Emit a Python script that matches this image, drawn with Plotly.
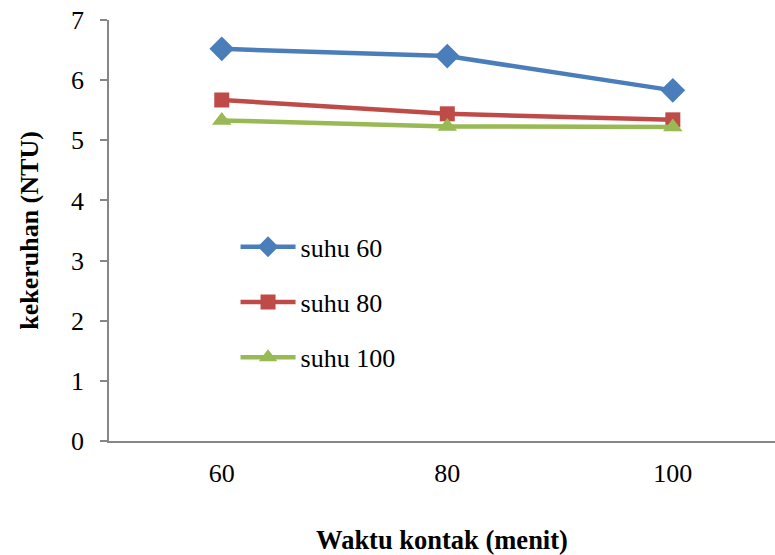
import plotly.graph_objects as go

# contact time categories (minutes)
waktu = ["60", "80", "100"]

# turbidity (NTU) for each temperature
suhu_60 = [6.52, 6.40, 5.83]
suhu_80 = [5.67, 5.44, 5.34]
suhu_100 = [5.33, 5.23, 5.22]

series = [
    ("suhu 60", suhu_60, "#4a7ebb", "diamond", 19),
    ("suhu 80", suhu_80, "#be4b48", "square", 15),
    ("suhu 100", suhu_100, "#98b954", "triangle-up", 17),
]

SERIF = "Liberation Serif, Times New Roman, serif"


def serif(size=26):
    return dict(family=SERIF, size=size, color="black")


fig = go.Figure()
for name, vals, color, symbol, size in series:
    fig.add_trace(go.Scatter(
        x=[0, 1, 2], y=vals, name=name, legendgroup=name,
        mode="lines+markers",
        line=dict(color=color, width=4.5),
        marker=dict(symbol=symbol, size=size, color=color),
    ))

fig.update_layout(
    width=775, height=555,
    margin=dict(l=109, r=0, t=20, b=114),
    paper_bgcolor="white", plot_bgcolor="white",
    font=serif(),
    showlegend=True,
    legend=dict(
        x=0.19, y=0.517, xanchor="left", yanchor="top",
        bgcolor="rgba(0,0,0,0)", font=serif(),
        tracegroupgap=18.5, itemwidth=55,
    ),
    xaxis=dict(
        range=[-0.5, 2.453], tickvals=[0, 1, 2], ticktext=waktu,
        showgrid=False, zeroline=False,
        showline=True, linecolor="#868686", linewidth=1.5,
        ticks="", tickfont=serif(), ticklabelstandoff=8,
        title=dict(text="<b>Waktu kontak (menit)</b>", standoff=44,
                   font=serif(26.5)),
    ),
    yaxis=dict(
        range=[0, 7], dtick=1, showgrid=False, zeroline=False,
        showline=True, linecolor="#868686", linewidth=1.5,
        ticks="outside", ticklen=7, tickcolor="#868686", tickwidth=1.5,
        tickfont=serif(), ticklabelstandoff=11,
        title=dict(text="<b>kekeruhan (NTU)</b>", standoff=25,
                   font=serif()),
    ),
)

fig.write_html("out.html")
